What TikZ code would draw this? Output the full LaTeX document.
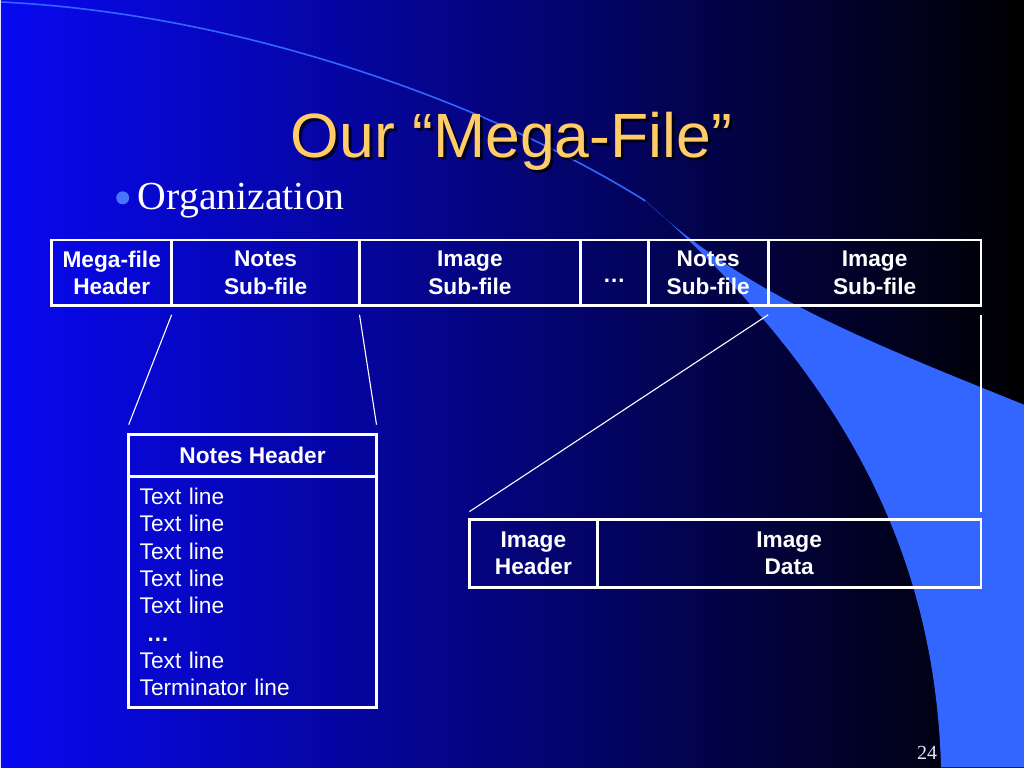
\documentclass[tikz,border=0pt]{standalone}
\usepackage{fontspec}
\setmainfont{Liberation Sans}
\newfontfamily\slideserif{Liberation Serif}
\usetikzlibrary{positioning}
\definecolor{SlideBlue}{RGB}{8,8,242}
\definecolor{SlideMid}{RGB}{0,0,182}
\definecolor{Swoosh}{RGB}{51,102,255}
\definecolor{TitleGold}{RGB}{255,204,102}

\begin{document}
\begin{tikzpicture}[x=1pt, y=-1pt,
                cell/.style={rectangle, draw=white, line width=2.6pt, outer sep=0pt, inner sep=0pt, minimum height=66, text=white, align=center, font=\fontsize{22.7}{27.3}\selectfont\bfseries},
                link/.style={white, line width=1.1pt}]
                % slide background
                \shade[left color=SlideBlue, middle color=SlideMid, right color=black] (0,0) rectangle (1024,768);
                \fill[Swoosh] (643,199) .. controls (740,290) and (850,335) .. (1024,405) -- (1024,768) -- (941,768) .. controls (935,560) and (850,380) .. (643,199) -- cycle;
                \draw[Swoosh, line width=1.6pt] (0,2) .. controls (250,14) and (500,110) .. (645,201);

                \node[anchor=base, text=black, opacity=0.7, font=\fontsize{62.6}{70}\selectfont] (titleshadow) at (514,161) {Our “Mega-File”};
                \node[anchor=base, text=TitleGold, font=\fontsize{62.6}{70}\selectfont] (title) at (511,158) {Our “Mega-File”};
                \fill[Swoosh!90!white] (122,198) circle (6.5);
                \node[anchor=base west, text=white, inner sep=0pt, font=\slideserif\fontsize{39.8}{45}\selectfont] (org) at (137,210) {Organization};

                % mega-file row
                \node[cell, minimum width=120, anchor=north west] (mfhead) at (51,240) {Mega-file\\Header};
                \node[cell, minimum width=188, right=0pt of mfhead] (notessub) {Notes\\Sub-file};
                \node[cell, minimum width=221, right=0pt of notessub] (imagesub) {Image\\Sub-file};
                \node[cell, minimum width=68, right=0pt of imagesub, text height=22pt, text depth=2pt] (moresub) {…};
                \node[cell, minimum width=120, right=0pt of moresub] (notessubb) {Notes\\Sub-file};
                \node[cell, minimum width=213, right=0pt of notessubb] (imagesubb) {Image\\Sub-file};

                % notes sub-file
                \node[cell, minimum width=248, minimum height=42, anchor=north west] (noteshead) at (128,435) {Notes Header};
                \node[cell, minimum width=248, minimum height=231, below=0pt of noteshead, align=left, text width=226, font=\fontsize{22.7}{27.3}\selectfont] (notesbody) {Text line\\Text line\\Text line\\Text line\\Text line\\\hspace*{7pt}\textbf{…}\\Text line\\Terminator line};

                % image sub-file
                \node[cell, minimum width=128, minimum height=68, anchor=north west] (imghead) at (469,520) {Image\\Header};
                \node[cell, minimum width=384, minimum height=68, right=0pt of imghead] (imgdata) {Image\\Data};

                \draw[link] ([yshift=-9pt]notessub.south west) -- ([yshift=10pt]noteshead.north west);
                \draw[link] ([yshift=-9pt]notessub.south east) -- ([yshift=10pt]noteshead.north east);
                \draw[link] ([yshift=-9pt]imagesubb.south west) -- ([yshift=8pt]imghead.north west);
                \draw[link] ([yshift=-9pt]imagesubb.south east) -- ([yshift=8pt]imgdata.north east);

                \node[anchor=base, text=white!90!blue, inner sep=0pt, font=\slideserif\fontsize{20}{24}\selectfont] (pagenum) at (927,760) {24};
\end{tikzpicture}
\end{document}
